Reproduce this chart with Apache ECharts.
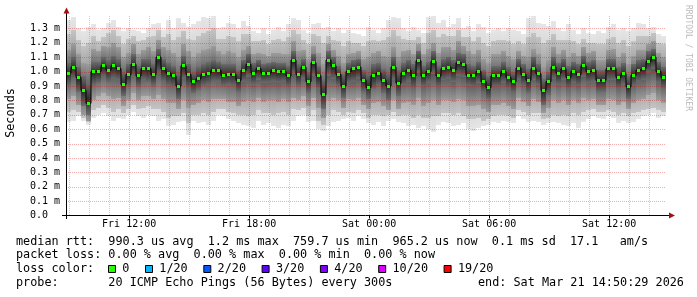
<!DOCTYPE html>
<html><head><meta charset="utf-8">
<script src="https://cdn.jsdelivr.net/npm/echarts@6/dist/echarts.min.js"></script>
<style>html,body{margin:0;padding:0;background:#fff}#c{width:697px;height:297px}</style>
</head><body><div id="c"></div>
<script>
// ---- time frame (hours since Fri 00:00) ----
const START_H = 8 + 50/60 + 29/3600;   // Fri 08:50:29
const SPAN_H = 30;
const STEP_H = 0.25;

// ---- median RTT (ms) per 15-min sample ----
const median = [
0.99,1.03,0.96,0.87,0.78,1.00,1.00,1.04,1.01,1.04,1.02,0.91,0.98,1.05,0.97,1.02,1.02,0.98,1.10,1.02,0.99,0.97,0.90,1.04,0.98,0.93,0.95,0.98,0.99,1.01,
1.01,0.975,0.98,0.98,0.94,1.01,1.05,0.99,1.02,0.99,0.99,1.01,1.00,1.00,0.97,1.08,0.98,1.03,0.93,1.06,0.97,0.84,1.08,1.04,0.98,0.90,1.00,1.02,1.03,0.94,
0.89,0.97,0.99,0.94,0.90,1.03,0.92,0.99,1.01,0.97,1.075,0.97,1.00,1.07,0.97,1.02,1.03,1.01,1.06,1.05,0.975,0.97,1.00,0.93,0.89,0.97,0.97,1.00,0.96,0.93,
1.025,0.98,0.94,1.02,0.985,0.87,0.93,1.03,0.99,1.02,0.96,1.00,0.98,1.04,1.00,1.01,0.94,0.94,1.02,1.02,0.96,0.985,0.895,0.975,1.01,1.02,1.07,1.10,1.00,0.96];

// ---- smoke envelopes (ms) ----
const smokeMax = [
1.36,1.38,1.30,1.28,1.31,1.33,1.29,1.30,1.34,1.36,1.31,1.28,1.30,1.29,1.28,1.27,1.30,1.33,1.34,1.29,1.36,1.30,1.37,1.34,1.31,1.33,1.35,1.38,1.37,1.39,
1.30,1.31,1.34,1.33,1.30,1.35,1.32,1.28,1.27,1.30,1.26,1.29,1.31,1.28,1.33,1.37,1.36,1.29,1.27,1.33,1.34,1.30,1.31,1.28,1.30,1.27,1.29,1.27,1.26,1.25,
1.31,1.29,1.27,1.30,1.36,1.38,1.37,1.30,1.28,1.31,1.29,1.27,1.38,1.39,1.34,1.36,1.31,1.33,1.37,1.30,1.32,1.28,1.33,1.31,1.27,1.29,1.30,1.28,1.30,1.29,
1.28,1.26,1.37,1.39,1.34,1.33,1.32,1.35,1.30,1.28,1.33,1.29,1.26,1.30,1.27,1.26,1.28,1.27,1.31,1.33,1.29,1.30,1.28,1.30,1.34,1.33,1.30,1.31,1.26,1.25];
const smokeHi2 = [
1.26,1.29,1.22,1.18,1.20,1.25,1.21,1.24,1.27,1.29,1.25,1.19,1.23,1.25,1.21,1.22,1.24,1.25,1.29,1.24,1.26,1.22,1.24,1.28,1.23,1.22,1.25,1.27,1.28,1.30,
1.23,1.23,1.25,1.24,1.21,1.26,1.26,1.21,1.21,1.22,1.19,1.22,1.23,1.21,1.24,1.29,1.26,1.22,1.19,1.26,1.25,1.20,1.25,1.22,1.21,1.18,1.21,1.20,1.20,1.18,
1.21,1.22,1.21,1.22,1.24,1.29,1.25,1.23,1.22,1.22,1.24,1.20,1.27,1.29,1.24,1.26,1.25,1.25,1.29,1.24,1.24,1.21,1.24,1.20,1.18,1.21,1.22,1.22,1.21,1.19,
1.21,1.19,1.24,1.27,1.24,1.20,1.22,1.26,1.22,1.22,1.22,1.21,1.19,1.23,1.20,1.20,1.19,1.19,1.23,1.24,1.20,1.22,1.18,1.21,1.25,1.25,1.25,1.27,1.20,1.19];
const smokeHi1 = [
1.15,1.19,1.12,1.06,1.05,1.16,1.14,1.18,1.17,1.20,1.17,1.10,1.13,1.19,1.12,1.15,1.17,1.14,1.22,1.17,1.15,1.13,1.10,1.19,1.14,1.10,1.13,1.15,1.16,1.18,
1.14,1.12,1.14,1.13,1.10,1.15,1.18,1.12,1.13,1.12,1.11,1.13,1.13,1.12,1.12,1.21,1.14,1.15,1.09,1.18,1.13,1.05,1.19,1.15,1.11,1.06,1.12,1.13,1.14,1.09,
1.10,1.13,1.14,1.11,1.10,1.17,1.10,1.14,1.15,1.12,1.19,1.12,1.16,1.20,1.13,1.17,1.17,1.15,1.21,1.18,1.14,1.12,1.15,1.09,1.06,1.12,1.12,1.14,1.11,1.09,
1.14,1.11,1.10,1.16,1.12,1.03,1.08,1.17,1.12,1.15,1.10,1.13,1.11,1.17,1.13,1.14,1.08,1.08,1.15,1.16,1.10,1.13,1.05,1.11,1.15,1.15,1.19,1.21,1.13,1.10];
const smokeCoreHi = [
1.06,1.10,1.03,0.97,0.92,1.07,1.07,1.10,1.08,1.11,1.09,1.00,1.05,1.12,1.04,1.09,1.09,1.05,1.16,1.09,1.06,1.04,0.98,1.11,1.05,1.00,1.03,1.05,1.07,1.08,
1.07,1.05,1.05,1.05,1.01,1.08,1.12,1.06,1.08,1.05,1.06,1.07,1.06,1.06,1.04,1.14,1.05,1.09,1.00,1.12,1.04,0.94,1.14,1.10,1.04,0.98,1.06,1.08,1.09,1.01,
0.98,1.05,1.06,1.02,0.99,1.10,1.01,1.06,1.08,1.05,1.14,1.04,1.07,1.14,1.04,1.09,1.10,1.08,1.13,1.12,1.05,1.04,1.07,1.01,0.97,1.04,1.04,1.07,1.03,1.00,
1.09,1.05,1.02,1.10,1.05,0.95,1.00,1.10,1.06,1.09,1.04,1.07,1.05,1.11,1.07,1.08,1.01,1.01,1.09,1.09,1.03,1.06,0.97,1.05,1.08,1.09,1.14,1.16,1.07,1.03];
const smokeCoreLo = [
0.91,0.95,0.86,0.76,0.70,0.91,0.92,0.96,0.93,0.95,0.94,0.83,0.90,0.96,0.89,0.94,0.93,0.90,0.98,0.93,0.90,0.89,0.81,0.95,0.88,0.85,0.87,0.90,0.91,0.93,
0.93,0.90,0.91,0.90,0.86,0.93,0.96,0.91,0.94,0.92,0.92,0.93,0.92,0.93,0.89,0.98,0.90,0.95,0.85,0.97,0.88,0.74,0.97,0.95,0.90,0.82,0.92,0.93,0.95,0.86,
0.81,0.88,0.91,0.85,0.80,0.94,0.83,0.91,0.93,0.88,0.99,0.89,0.92,0.98,0.89,0.94,0.95,0.93,0.97,0.96,0.90,0.89,0.92,0.85,0.81,0.89,0.89,0.92,0.88,0.85,
0.94,0.90,0.85,0.94,0.91,0.77,0.84,0.95,0.91,0.94,0.88,0.92,0.90,0.96,0.92,0.93,0.86,0.86,0.94,0.94,0.88,0.91,0.81,0.90,0.93,0.94,0.99,1.02,0.92,0.88];
const smokeLo1 = [
0.81,0.83,0.77,0.70,0.66,0.80,0.83,0.85,0.83,0.81,0.82,0.76,0.80,0.85,0.80,0.83,0.83,0.81,0.84,0.81,0.78,0.78,0.74,0.80,0.75,0.77,0.78,0.80,0.79,0.81,
0.81,0.81,0.79,0.79,0.76,0.79,0.80,0.79,0.82,0.79,0.80,0.80,0.79,0.81,0.79,0.82,0.80,0.83,0.76,0.82,0.75,0.68,0.80,0.82,0.80,0.75,0.81,0.80,0.82,0.77,
0.74,0.78,0.79,0.76,0.73,0.80,0.74,0.78,0.79,0.77,0.82,0.76,0.78,0.80,0.77,0.80,0.80,0.79,0.81,0.80,0.76,0.76,0.77,0.74,0.72,0.77,0.77,0.78,0.76,0.74,
0.82,0.79,0.76,0.81,0.79,0.71,0.75,0.80,0.78,0.80,0.77,0.80,0.78,0.82,0.80,0.81,0.77,0.77,0.81,0.80,0.77,0.79,0.74,0.78,0.80,0.81,0.84,0.85,0.80,0.78];
const smokeLo2 = [
0.72,0.73,0.72,0.68,0.65,0.73,0.75,0.77,0.75,0.72,0.74,0.71,0.74,0.77,0.74,0.75,0.76,0.74,0.74,0.72,0.68,0.69,0.69,0.71,0.64,0.70,0.70,0.71,0.70,0.72,
0.74,0.74,0.72,0.71,0.70,0.70,0.69,0.70,0.73,0.71,0.71,0.70,0.71,0.72,0.70,0.74,0.73,0.75,0.69,0.73,0.66,0.63,0.70,0.73,0.72,0.70,0.72,0.71,0.73,0.71,
0.68,0.70,0.70,0.69,0.70,0.72,0.69,0.70,0.70,0.68,0.70,0.68,0.68,0.69,0.69,0.71,0.71,0.70,0.71,0.69,0.67,0.67,0.68,0.66,0.67,0.69,0.70,0.70,0.69,0.68,
0.73,0.72,0.70,0.71,0.71,0.67,0.68,0.70,0.69,0.70,0.69,0.71,0.70,0.72,0.73,0.74,0.72,0.72,0.73,0.72,0.70,0.71,0.69,0.71,0.72,0.73,0.74,0.75,0.73,0.72];
const smokeMin = [
0.65,0.66,0.69,0.66,0.63,0.68,0.70,0.71,0.69,0.66,0.68,0.67,0.70,0.72,0.69,0.68,0.70,0.69,0.66,0.67,0.62,0.63,0.65,0.66,0.56,0.66,0.64,0.65,0.63,0.66,
0.70,0.69,0.67,0.66,0.64,0.63,0.62,0.61,0.66,0.63,0.64,0.62,0.61,0.63,0.62,0.66,0.69,0.70,0.65,0.66,0.60,0.59,0.62,0.65,0.66,0.67,0.68,0.66,0.69,0.67,
0.64,0.63,0.65,0.62,0.66,0.67,0.65,0.64,0.62,0.63,0.61,0.62,0.60,0.58,0.63,0.65,0.64,0.62,0.63,0.64,0.60,0.59,0.61,0.62,0.63,0.65,0.64,0.66,0.65,0.64,
0.69,0.67,0.65,0.66,0.65,0.63,0.64,0.65,0.64,0.63,0.62,0.64,0.61,0.65,0.67,0.69,0.68,0.67,0.69,0.68,0.64,0.66,0.64,0.65,0.67,0.69,0.70,0.71,0.68,0.69];

// ---- axes ----
const xTickHours = [12, 18, 24, 30, 36];
const xTickLabels = ['Fri 12:00', 'Fri 18:00', 'Sat 00:00', 'Sat 06:00', 'Sat 12:00'];
const xMinorHours = [9,10,11,13,14,15,16,17,19,20,21,22,23,25,26,27,28,29,31,32,33,34,35,37,38];
const yGridValues = [0.1,0.2,0.3,0.4,0.5,0.6,0.7,0.8,0.9,1.0,1.1,1.2,1.3];
const yTickLabels = ['0.0','0.1 m','0.2 m','0.3 m','0.4 m','0.5 m','0.6 m','0.7 m','0.8 m','0.9 m','1.0 m','1.1 m','1.2 m','1.3 m'];

// ---- legend text ----
const legendLine1 = 'median rtt:  990.3 us avg  1.2 ms max  759.7 us min  965.2 us now  0.1 ms sd  17.1   am/s';
const legendLine2 = 'packet loss: 0.00 % avg  0.00 % max  0.00 % min  0.00 % now';
const legendLine3 = 'loss color:';
const legendLine4 = 'probe:       20 ICMP Echo Pings (56 Bytes) every 300s';
const legendEnd = 'end: Sat Mar 21 14:50:29 2026';
const lossLabels = ['0', '1/20', '2/20', '3/20', '4/20', '10/20', '19/20'];
const lossColors = ['#26ff00', '#00b8ff', '#0059ff', '#5e00ff', '#7e00ff', '#dd00ff', '#ff0000'];
const medianColor = '#26ff00';

// ---- build ----
const MONO = '"DejaVu Sans Mono", monospace';
const N = median.length;
const smokeData = [], greenData = [], lineData = [];
for (let i = 0; i < N; i++) {
  const t0 = START_H + i * STEP_H, t1 = t0 + STEP_H;
  smokeData.push([t0, t1, smokeMax[i], smokeHi2[i], smokeHi1[i], smokeCoreHi[i], smokeCoreLo[i], smokeLo1[i], smokeLo2[i], smokeMin[i]]);
  greenData.push([t0, t1, median[i]]);
  lineData.push([t0 + STEP_H / 2, median[i]]);
}
// band shading: [edge colour, centre colour]
const shades = [['#e6e6e6', '#c6c6c6'], ['#c4c4c4', '#8a8a8a'], ['#9c9c9c', '#4e4e4e'], ['#6c6c6c', '#2c2c2c']];
const grad = (edge, mid) => new echarts.graphic.LinearGradient(0, 0, 0, 1, [
  {offset: 0, color: edge}, {offset: 0.5, color: mid}, {offset: 1, color: edge}]);
const vGridData = xMinorHours.map(h => [h, 0]).concat(xTickHours.map(h => [h, 1]));
const hGridData = yGridValues.map(v => [START_H, v]);
const RED_GRID = 'rgba(215,0,0,0.32)';
const GRAY_GRID = 'rgba(100,100,100,0.33)';

const chart = echarts.init(document.getElementById('c'), null, {renderer: 'canvas'});

const LEFT = 66, TOP = 15.5, BOTTOM_Y = 215.5;
const graphics = [];
graphics.push({type:'line', shape:{x1:62, y1:215.5, x2:669, y2:215.5}, style:{stroke:'#000', lineWidth:1}, z:100});
graphics.push({type:'line', shape:{x1:66.5, y1:219, x2:66.5, y2:12}, style:{stroke:'#000', lineWidth:1}, z:100});
graphics.push({type:'polygon', shape:{points:[[63.5,13.5],[69.5,13.5],[66.5,7.5]]}, style:{fill:'#a01010'}, z:101});
graphics.push({type:'polygon', shape:{points:[[669,212.5],[669,218.5],[675,215.5]]}, style:{fill:'#a01010'}, z:101});
const LX = 16, CW = 7.1;
const legFont = '11.8px ' + MONO;
[[legendLine1, 241.5], [legendLine2, 255.3], [legendLine3, 269], [legendLine4, 282.8]].forEach(([t, y]) => {
  graphics.push({type:'text', x:LX, y:y, style:{text:t, font:legFont, fill:'#000', align:'left', verticalAlign:'middle'}});
});
graphics.push({type:'text', x:478, y:282.8, style:{text:legendEnd, font:legFont, fill:'#000', align:'left', verticalAlign:'middle'}});
let bx = 108;
lossLabels.forEach((lab, k) => {
  graphics.push({type:'rect', shape:{x:bx + 0.5, y:265.5, width:7, height:7}, style:{fill:lossColors[k], stroke:'#000', lineWidth:1}});
  graphics.push({type:'text', x:bx + 14.3, y:269, style:{text:lab, font:legFont, fill:'#000', align:'left', verticalAlign:'middle'}});
  bx = bx + 14.3 + lab.length * CW + 15.6;
});
graphics.push({type:'text', x:11, y:113, rotation:Math.PI/2, style:{text:'Seconds', font:legFont, fill:'#000', align:'center', verticalAlign:'middle'}});
graphics.push({type:'text', x:688, y:5, rotation:-Math.PI/2, style:{text:'RRDTOOL / TOBI OETIKER', font:'8px ' + MONO, fill:'#bbbbbb', align:'left', verticalAlign:'middle'}});

chart.setOption({
  animation: false,
  backgroundColor: '#fff',
  grid: {left: LEFT, top: TOP, width: 600, height: BOTTOM_Y - TOP, containLabel: false},
  xAxis: {
    type: 'value', min: START_H, max: START_H + SPAN_H,
    axisLine: {show: false}, splitLine: {show: false},
    axisTick: {show: true, customValues: xTickHours, length: 3, lineStyle: {color: '#000'}},
    axisLabel: {customValues: xTickHours, margin: 4, fontFamily: MONO, fontSize: 10, color: '#000',
      formatter: v => { const k = xTickHours.indexOf(Math.round(v)); return k >= 0 ? xTickLabels[k] : ''; }}
  },
  yAxis: {
    type: 'value', min: 0, max: 1.39, interval: 0.1,
    axisLine: {show: false}, axisTick: {show: false}, splitLine: {show: false},
    axisLabel: {align: 'left', margin: 36, fontFamily: MONO, fontSize: 10, color: '#000', showMaxLabel: false,
      formatter: v => { const k = Math.round(v * 10); return (Math.abs(v * 10 - k) < 1e-6 && k < yTickLabels.length) ? yTickLabels[k] : ''; }}
  },
  graphic: graphics,
  series: [
    {
      type: 'custom', z: 1, data: smokeData, encode: {x: [0, 1], y: [2, 9]}, silent: true,
      renderItem: (params, api) => {
        const t0 = api.value(0), t1 = api.value(1);
        const xa = Math.round(api.coord([t0, 0])[0]), xb = Math.round(api.coord([t1, 0])[0]);
        const band = (lo, hi, sh) => {
          const ya = Math.round(api.coord([t0, hi])[1]), yb = Math.round(api.coord([t0, lo])[1]);
          return {type: 'rect', shape: {x: xa, y: ya, width: xb - xa, height: yb - ya}, style: {fill: grad(sh[0], sh[1])}};
        };
        return {type: 'group', children: [
          band(api.value(9), api.value(2), shades[0]),
          band(api.value(8), api.value(3), shades[1]),
          band(api.value(7), api.value(4), shades[2]),
          band(api.value(6), api.value(5), shades[3])
        ]};
      }
    },
    {
      type: 'custom', z: 3, data: hGridData, encode: {x: 0, y: 1}, silent: true,
      renderItem: (params, api) => {
        const y = Math.round(api.coord([api.value(0), api.value(1)])[1]) + 0.5;
        const xa = Math.round(api.coord([START_H, 0])[0]), xb = Math.round(api.coord([START_H + SPAN_H, 0])[0]);
        return {type: 'line', shape: {x1: xa, y1: y, x2: xb, y2: y}, style: {stroke: RED_GRID, lineWidth: 1, lineDash: [1, 1]}};
      }
    },
    {
      type: 'custom', z: 3, data: vGridData, encode: {x: 0}, silent: true,
      renderItem: (params, api) => {
        const x = Math.round(api.coord([api.value(0), 0])[0]) + 0.5;
        const yTop = Math.round(api.coord([START_H, 1.39])[1]);
        const yBot = Math.round(api.coord([START_H, 0])[1]);
        return {type: 'line', shape: {x1: x, y1: yTop, x2: x, y2: yBot}, style: {stroke: api.value(1) ? RED_GRID : GRAY_GRID, lineWidth: 1, lineDash: [1, 1]}};
      }
    },
    {
      type: 'line', z: 4, data: lineData, step: 'middle', showSymbol: false, silent: true,
      lineStyle: {color: '#000', width: 1}
    },
    {
      type: 'custom', z: 5, data: greenData, encode: {x: [0, 1], y: 2}, silent: true,
      renderItem: (params, api) => {
        const t0 = api.value(0), t1 = api.value(1);
        const xa = Math.round(api.coord([t0, 0])[0]), xb = Math.round(api.coord([t1, 0])[0]);
        const yc = api.coord([t0, api.value(2)])[1];
        return {type: 'rect', shape: {x: xa + 1, y: Math.round(yc - 1.5), width: xb - xa - 2, height: 3}, style: {fill: medianColor}};
      }
    }
  ]
});
</script>
</body></html>
